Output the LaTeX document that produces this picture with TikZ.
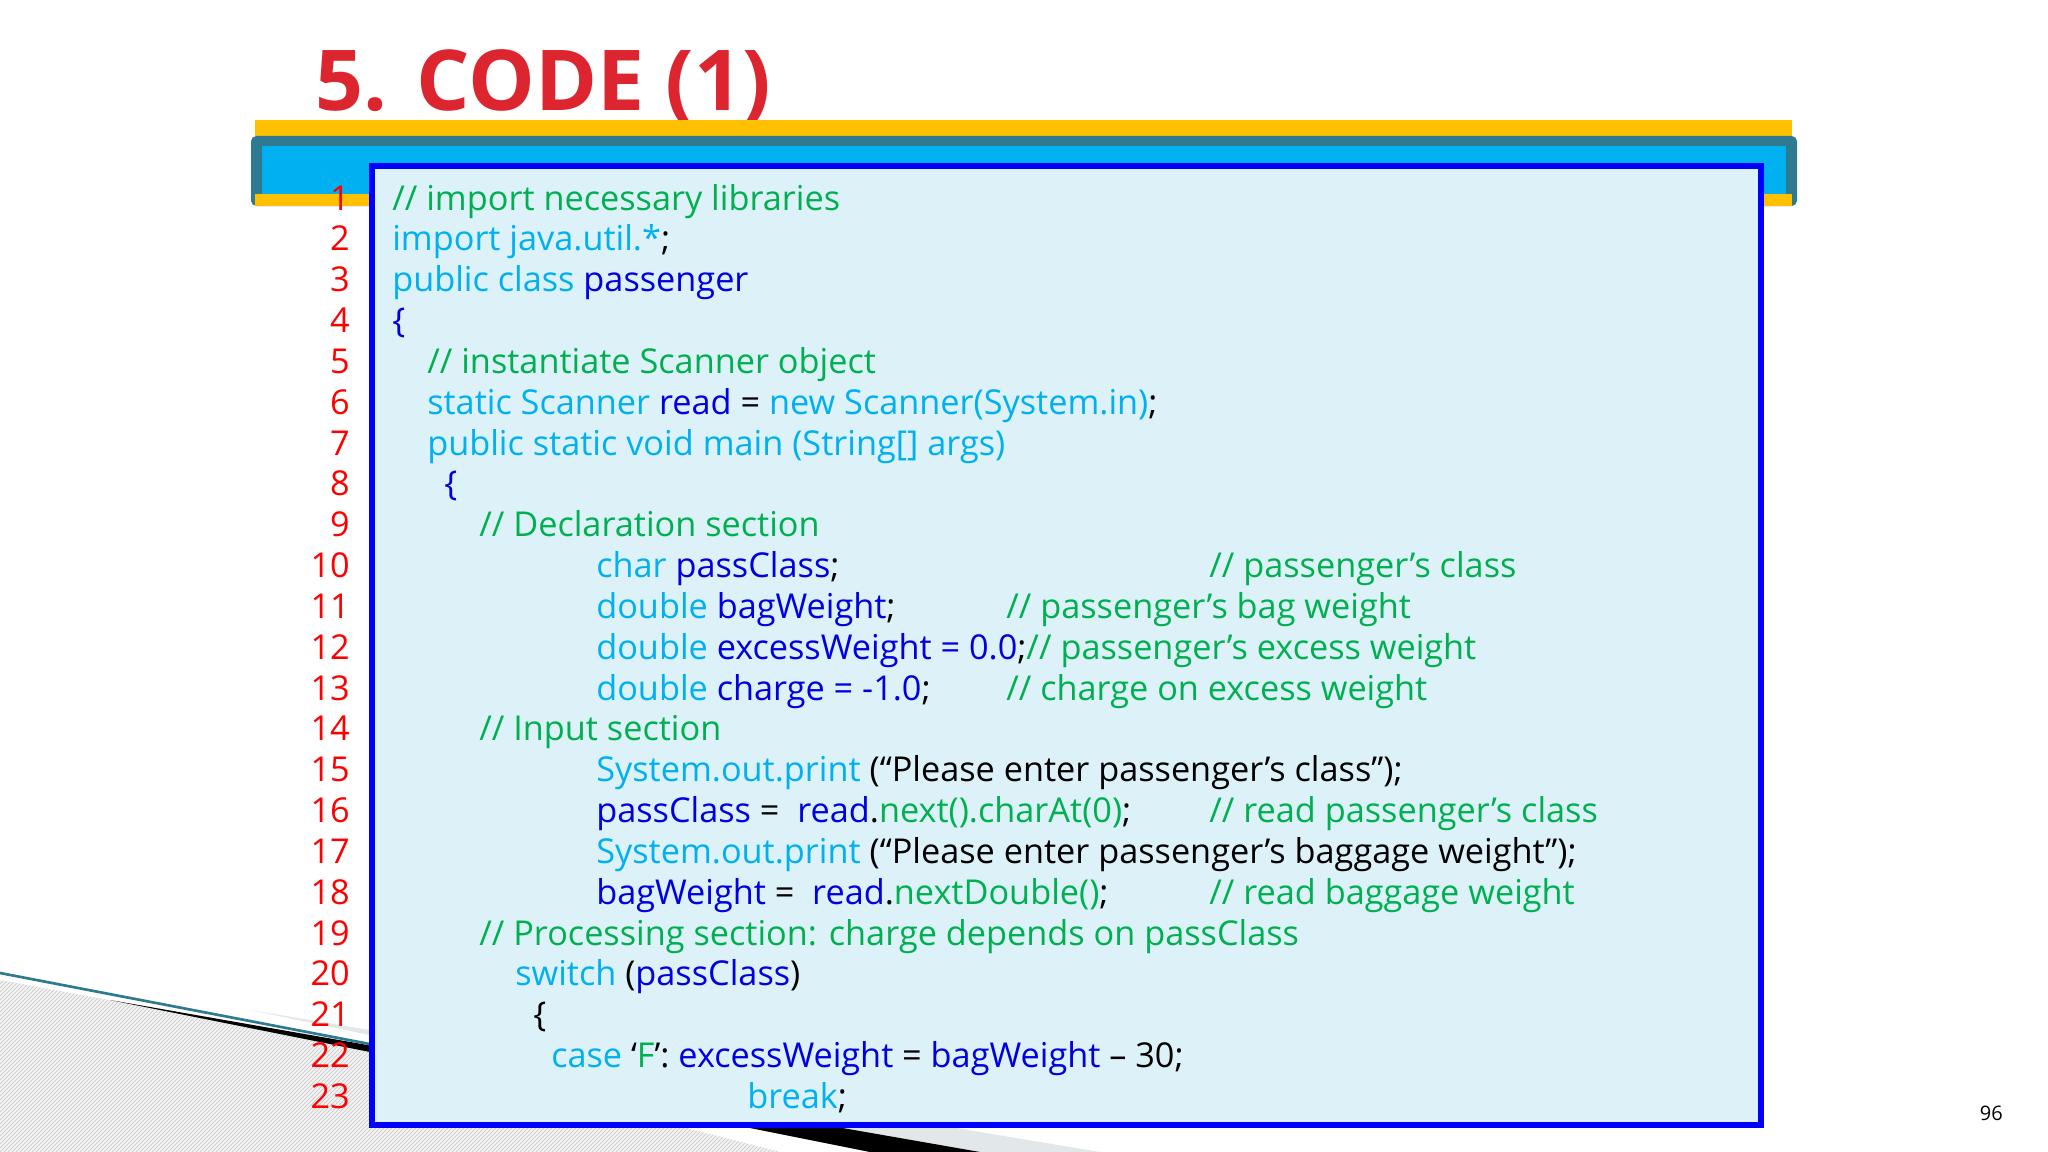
\documentclass[tikz,border=0pt]{standalone}
\usepackage{fontspec}
\setmainfont{Open Sans}
\usetikzlibrary{patterns}
\definecolor{cmt}{HTML}{00B050}
\definecolor{kw}{HTML}{00B0F0}
\definecolor{idc}{HTML}{0000E0}
\definecolor{ttl}{HTML}{DD2530}
\definecolor{gold}{HTML}{FFC000}
\definecolor{tealb}{HTML}{2E7A90}
\definecolor{boxbg}{HTML}{DDF1F8}
\newcommand\Cm[1]{\textcolor{cmt}{#1}}
\newcommand\Kw[1]{\textcolor{kw}{#1}}
\newcommand\Id[1]{\textcolor{idc}{#1}}
\tikzset{codeln/.style={anchor=base west,inner sep=0pt,font=\fontsize{25.7}{30}\selectfont},
 lnum/.style={anchor=base east,inner sep=0pt,text=red,font=\fontsize{25.7}{30}\selectfont}}
\begin{document}
\begin{tikzpicture}[x=0.75pt,y=-0.75pt]
\useasboundingbox (0,0) rectangle (2048,1152);
\fill[white] (0,0) rectangle (2048,1152);
% decoration bottom-left
\fill[gray!10] (0,980) -- (380,1050) -- (780,1152) -- (0,1152) -- cycle;
\fill[pattern=north east lines,pattern color=gray!45] (0,980) -- (380,1050) -- (780,1152) -- (0,1152) -- cycle;
\fill[boxbg!60!gray!40] (250,1010) -- (1100,1152) -- (930,1152) -- cycle;
\fill[black] (110,1000) -- (980,1152) -- (870,1152) -- cycle;
\draw[tealb,line width=2] (0,973) -- (380,1046);
% title
\node[anchor=base west,inner sep=0pt,text=ttl,font=\fontsize{63}{75}\selectfont\bfseries] (title) at (315,111) {5. CODE (1)};
% header bar
\fill[gold] (255,120) rectangle (1792,136);
\fill[tealb,rounded corners=4] (251,136) rectangle (1797,206);
\fill[kw] (262,146) rectangle (1786,194);
\fill[gold] (255,194) rectangle (1792,206);
% code box
\draw[blue,line width=5,fill=boxbg] (372,166) rectangle (1761,1125);
\foreach \n in {1,...,23}{
  \node[lnum] (n\n) at (350,{210+(\n-1)*40.84}) {\n};
}
\def\L#1{{210+(#1-1)*40.84}}
\node[codeln] (c1) at (392,\L1) {\Cm{// import necessary libraries}};
\node[codeln] (c2) at (392,\L2) {\Kw{import java.util.*};};
\node[codeln] (c3) at (392,\L3) {\Kw{public class} \Id{passenger}};
\node[codeln] (c4) at (392,\L4) {\Id{\{}};
\node[codeln] (c5) at (427,\L5) {\Cm{// instantiate Scanner object}};
\node[codeln] (c6) at (427,\L6) {\Kw{static Scanner} \Id{read} = \Kw{new Scanner(System.in)};};
\node[codeln] (c7) at (427,\L7) {\Kw{public static void main (String[] args)}};
\node[codeln] (c8) at (444,\L8) {\Id{\{}};
\node[codeln] (c9) at (479,\L9) {\Cm{// Declaration section}};
\node[codeln] (c10) at (596,\L{10}) {\Kw{char} \Id{passClass};};
\node[codeln] (k10) at (1209,\L{10}) {\Cm{// passenger’s class}};
\node[codeln] (c11) at (596,\L{11}) {\Kw{double} \Id{bagWeight};};
\node[codeln] (k11) at (1006,\L{11}) {\Cm{// passenger’s bag weight}};
\node[codeln] (c12) at (596,\L{12}) {\Kw{double} \Id{excessWeight = 0.0};\Cm{// passenger’s excess weight}};
\node[codeln] (c13) at (596,\L{13}) {\Kw{double} \Id{charge = -1.0};};
\node[codeln] (k13) at (1006,\L{13}) {\Cm{// charge on excess weight}};
\node[codeln] (c14) at (479,\L{14}) {\Cm{// Input section}};
\node[codeln] (c15) at (596,\L{15}) {\Kw{System.out.print} (“Please enter passenger’s class”);};
\node[codeln] (c16) at (596,\L{16}) {\Id{passClass} =\ \ \Id{read}.\Cm{next().charAt(0)};};
\node[codeln] (k16) at (1209,\L{16}) {\Cm{// read passenger’s class}};
\node[codeln] (c17) at (596,\L{17}) {\Kw{System.out.print} (“Please enter passenger’s baggage weight”);};
\node[codeln] (c18) at (596,\L{18}) {\Id{bagWeight} =\ \ \Id{read}.\Cm{nextDouble()};};
\node[codeln] (k18) at (1209,\L{18}) {\Cm{// read baggage weight}};
\node[codeln] (c19) at (479,\L{19}) {\Cm{// Processing section: charge depends on passClass}};
\node[codeln] (c20) at (515,\L{20}) {\Kw{switch} (\Id{passClass})};
\node[codeln] (c21) at (533,\L{21}) {\{};
\node[codeln] (c22) at (551,\L{22}) {\Kw{case} ‘\Cm{F}’: \Id{excessWeight} = \Id{bagWeight} – 30;};
\node[codeln] (c23) at (747,\L{23}) {\Kw{break};};
\node[anchor=base east,inner sep=0pt,font=\fontsize{15}{17}\selectfont] (pg) at (2003,1120) {96};
\end{tikzpicture}
\end{document}
